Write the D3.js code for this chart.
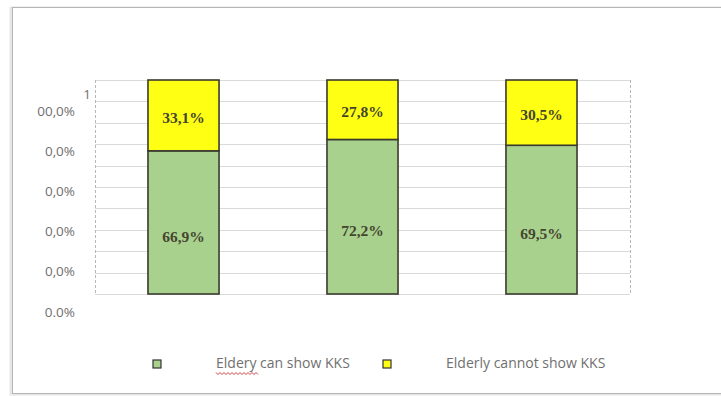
<!DOCTYPE html>
<html>
<head>
<meta charset="utf-8">
<script src="https://cdn.jsdelivr.net/npm/d3@7"></script>
<style>
  html, body { margin: 0; padding: 0; background: #fff; }
  svg { display: block; }
</style>
</head>
<body>
<svg id="chart" width="721" height="396"></svg>
<script>
// Share of elderly who can / cannot show KKS, per group
const groups = ["A", "B", "C"];
const canShow = [66.9, 72.2, 69.5];
const cannotShow = [33.1, 27.8, 30.5];
const canLabels = ["66,9%", "72,2%", "69,5%"];
const cannotLabels = ["33,1%", "27,8%", "30,5%"];
const yTickLabels = ["00,0%", "0,0%", "0,0%", "0,0%", "0,0%", "0.0%"];
const gridValues = d3.range(0, 101, 10);
const seriesNames = ["Eldery can show KKS", "Elderly cannot show KKS"];
const seriesColors = ["#a9d18e", "#ffff14"];

const svg = d3.select("#chart");

// outer frame with a soft shadow on the left
svg.append("rect").attr("x", 11).attr("y", 8).attr("width", 720).attr("height", 386)
  .attr("fill", "none").attr("stroke", "#e6e6e6").attr("stroke-width", 3);
svg.append("rect").attr("x", 12.5).attr("y", 7.5).attr("width", 720).attr("height", 386)
  .attr("fill", "#fff").attr("stroke", "#b5b5b5").attr("stroke-width", 1);

const plot = { left: 95, right: 630, top: 80, bottom: 294 };

const x = d3.scaleBand().domain(groups).range([plot.left, plot.right])
  .paddingInner(0.603).paddingOuter(0.296);
const y = d3.scaleLinear().domain([0, 100]).range([plot.bottom, plot.top]);

// horizontal gridlines
svg.append("g").selectAll("line").data(gridValues).join("line")
  .attr("x1", plot.left).attr("x2", plot.right)
  .attr("y1", d => Math.round(y(d)) + 0.5).attr("y2", d => Math.round(y(d)) + 0.5)
  .attr("stroke", "#dadada").attr("stroke-width", 1.2);

// dashed side borders of the plot area
[plot.left, plot.right].forEach(px => {
  svg.append("line").attr("x1", px + 0.5).attr("x2", px + 0.5)
    .attr("y1", plot.top).attr("y2", plot.bottom)
    .attr("stroke", "#b8b8b8").attr("stroke-width", 1).attr("stroke-dasharray", "3,2");
});

// y labels
const yl = d3.scalePoint().domain(d3.range(yTickLabels.length)).range([112, 313]);
svg.append("g").selectAll("text").data(yTickLabels).join("text")
  .attr("x", 75).attr("y", (d, i) => yl(i))
  .attr("text-anchor", "end").attr("dominant-baseline", "middle")
  .attr("font-family", "'Open Sans', sans-serif").attr("font-size", 13.5)
  .attr("fill", "#707070").text(d => d);
svg.append("text").attr("x", 91).attr("y", y(100) + 15)
  .attr("text-anchor", "end").attr("dominant-baseline", "middle")
  .attr("font-family", "'Open Sans', sans-serif").attr("font-size", 13.5)
  .attr("fill", "#707070").text("1");

// stacked bars
const rows = groups.map((g, i) => ({ group: g, can: canShow[i], cannot: cannotShow[i], i }));
const stack = d3.stack().keys(["can", "cannot"])(rows);

const bars = svg.append("g");
stack.forEach((layer, k) => {
  bars.selectAll(null).data(layer).join("rect")
    .attr("x", d => x(d.data.group))
    .attr("width", x.bandwidth())
    .attr("y", d => y(d[1]))
    .attr("height", d => y(d[0]) - y(d[1]))
    .attr("fill", seriesColors[k])
    .attr("stroke", "#3a3a2e").attr("stroke-width", 1.6);
});

// value labels
const lbl = bars.append("g")
  .attr("font-family", "'Liberation Serif', 'Times New Roman', serif")
  .attr("font-weight", "bold").attr("font-size", 15.5)
  .attr("fill", "#45452f").attr("text-anchor", "middle");
stack[0].forEach((d, i) => {
  lbl.append("text").attr("x", x(d.data.group) + x.bandwidth() / 2)
    .attr("y", (y(d[0]) + y(d[1])) / 2 + 16).attr("dominant-baseline", "middle")
    .text(canLabels[i]);
});
stack[1].forEach((d, i) => {
  lbl.append("text").attr("x", x(d.data.group) + x.bandwidth() / 2)
    .attr("y", (y(d[0]) + y(d[1])) / 2 + 4).attr("dominant-baseline", "middle")
    .text(cannotLabels[i]);
});

// legend
const legend = svg.append("g").attr("font-family", "'Open Sans', sans-serif")
  .attr("font-size", 14).attr("fill", "#707070");
const legendItems = [
  { sx: 153, tx: 216 },
  { sx: 383, tx: 446 }
];
legendItems.forEach((it, k) => {
  legend.append("rect").attr("x", it.sx).attr("y", 360).attr("width", 8).attr("height", 8)
    .attr("fill", seriesColors[k]).attr("stroke", "#333").attr("stroke-width", 1.2);
  legend.append("text").attr("x", it.tx).attr("y", 364)
    .attr("dominant-baseline", "middle").text(seriesNames[k]);
});
// spell-check squiggle under the first word
const sq = d3.range(0, 44, 2).map((d, i) => [216 + d, 373 + (i % 2 ? 1.5 : -0.5)]);
legend.append("path").attr("d", d3.line()(sq)).attr("fill", "none")
  .attr("stroke", "#d03030").attr("stroke-width", 0.9);
</script>
</body>
</html>
